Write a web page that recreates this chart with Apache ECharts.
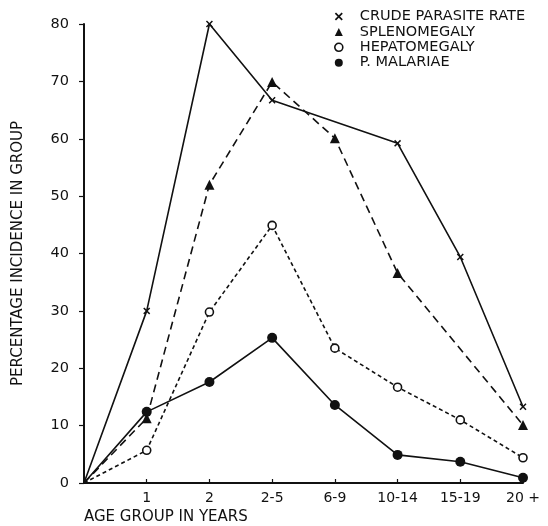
<!DOCTYPE html>
<html>
<head>
<meta charset="utf-8">
<script src="https://cdn.jsdelivr.net/npm/echarts@6/dist/echarts.min.js"></script>
<style>
  html, body { margin: 0; padding: 0; background: #fff; }
  #chart { width: 548px; height: 526px; }
</style>
</head>
<body>
<div id="chart"></div>
<script>
const FONT = '"DejaVu Sans", "Open Sans", sans-serif';

// age groups; first slot is the origin
const ageGroups = ['', '1', '2', '2-5', '6-9', '10-14', '15-19', '20 +'];

const crudeParasite = [0, 30, 80, 66.7, null, 59.2, 39.4, 13.3];
const splenomegaly = [0, 11.3, 52, 69.9, 60.1, 36.6, null, 10.1];
const hepatomegaly = [0, 5.7, 29.8, 44.9, 23.5, 16.7, 11, 4.4];
const pMalariae = [0, 12.4, 17.6, 25.3, 13.6, 4.9, 3.7, 0.9];

const CROSS = 'path://M0,1.5L1.5,0L5,3.5L8.5,0L10,1.5L6.5,5L10,8.5L8.5,10L5,6.5L1.5,10L0,8.5L3.5,5Z';

// origin point gets no marker
const withOrigin = arr => arr.map((v, i) => (i === 0 ? { value: v, symbol: 'none' } : v));

function lineSeries(name, data, symbol, size, dash, fill) {
    return {
        name,
        type: 'line',
        data: withOrigin(data),
        connectNulls: true,
        symbol,
        symbolSize: size,
        showAllSymbol: true,
        lineStyle: { color: '#111', width: 1.6, type: dash },
        itemStyle: { color: fill, borderColor: '#111', borderWidth: fill === '#fff' ? 1.6 : 0 },
        emphasis: { disabled: true },
        z: fill === '#fff' ? 3 : 2,
        animation: false,
    };
}

const chart = echarts.init(document.getElementById('chart'), null, { renderer: 'canvas' });

chart.setOption({
    backgroundColor: '#fff',
    textStyle: { fontFamily: FONT, color: '#111' },
    legend: {
        orient: 'vertical',
        left: 329,
        top: 4,
        itemGap: 0.4,
        itemWidth: 8,
        itemHeight: 8,
        selectedMode: false,
        textStyle: { fontFamily: FONT, fontSize: 14.5, lineHeight: 14, color: '#111', padding: [0, 0, 0, 12] },
        data: [
            { name: 'CRUDE PARASITE RATE', icon: CROSS, itemStyle: { color: '#111', borderWidth: 0 } },
            { name: 'SPLENOMEGALY', icon: 'triangle', itemStyle: { color: '#111', borderWidth: 0 } },
            { name: 'HEPATOMEGALY', icon: 'circle', itemStyle: { color: '#fff', borderColor: '#111', borderWidth: 1.6 } },
            { name: 'P. MALARIAE', icon: 'circle', itemStyle: { color: '#111', borderWidth: 0 } },
        ],
    },
    grid: { left: 84, right: 25, top: 24, bottom: 43 },
    xAxis: {
        type: 'category',
        data: ageGroups,
        boundaryGap: false,
        name: 'AGE GROUP IN YEARS',
        nameLocation: 'start',
        nameGap: 0,
        nameTextStyle: { fontFamily: FONT, fontSize: 15, color: '#111', align: 'left', verticalAlign: 'top', padding: [27, 0, 0, 0] },
        axisLine: { lineStyle: { color: '#111', width: 2 } },
        axisTick: { inside: true, length: 4, lineStyle: { color: '#111', width: 1.2 }, interval: idx => idx > 0 },
        axisLabel: { fontFamily: FONT, fontSize: 14, color: '#111', margin: 8 },
        splitLine: { show: false },
    },
    yAxis: {
        type: 'value',
        min: 0,
        max: 80,
        interval: 10,
        name: 'PERCENTAGE INCIDENCE IN GROUP',
        nameLocation: 'middle',
        nameGap: 58,
        nameTextStyle: { fontFamily: FONT, fontSize: 15, color: '#111' },
        axisLine: { show: true, lineStyle: { color: '#111', width: 2 } },
        axisTick: { show: true, length: 5, lineStyle: { color: '#111', width: 1.2 } },
        axisLabel: { fontFamily: FONT, fontSize: 14.5, color: '#111', margin: 15 },
        splitLine: { show: false },
    },
    series: [
        lineSeries('CRUDE PARASITE RATE', crudeParasite, CROSS, 7, 'solid', '#111'),
        lineSeries('SPLENOMEGALY', splenomegaly, 'triangle', 10, [8, 5], '#111'),
        lineSeries('HEPATOMEGALY', hepatomegaly, 'circle', 8, [4, 3], '#fff'),
        lineSeries('P. MALARIAE', pMalariae, 'circle', 10, 'solid', '#111'),
    ],
});
</script>
</body>
</html>
